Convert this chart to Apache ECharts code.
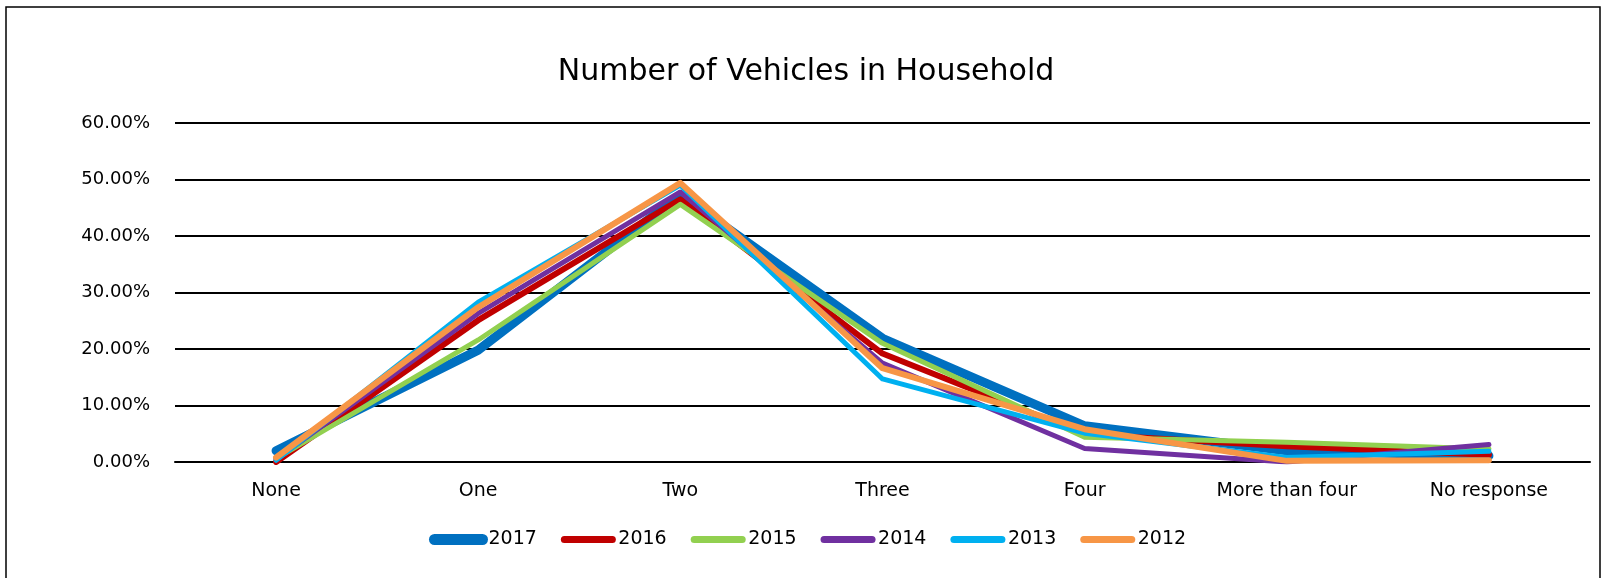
<!DOCTYPE html>
<html>
<head>
<meta charset="utf-8">
<script src="https://cdn.jsdelivr.net/npm/echarts@6/dist/echarts.min.js"></script>
<style>
  html, body { margin: 0; padding: 0; background: #fff; }
  #chart { width: 1612px; height: 578px; }
</style>
</head>
<body>
<div id="chart"></div>
<script>
// categories on the x axis
var categories = ['None', 'One', 'Two', 'Three', 'Four', 'More than four', 'No response'];
var years = ['2017', '2016', '2015', '2014', '2013', '2012'];
var colors = ['#0070C0', '#C00000', '#92D050', '#7030A0', '#00B0F0', '#F79646'];
var widths = [9, 6, 5, 5, 5, 6];
var legendWidths = [11, 7, 7, 7, 7, 7];

// shares of households, in percent
var y2017 = [2.0, 19.8, 47.3, 21.9, 6.4, 2.0, 1.1];
var y2016 = [0.0, 25.1, 46.5, 19.2, 4.9, 2.8, 1.3];
var y2015 = [0.6, 21.6, 45.6, 21.0, 4.4, 3.5, 2.3];
var y2014 = [0.5, 26.3, 47.8, 17.5, 2.4, 0.0, 3.1];
var y2013 = [0.3, 28.3, 49.0, 14.7, 5.1, 0.8, 1.9];
var y2012 = [0.8, 27.4, 49.4, 16.6, 5.8, 0.2, 0.3];
var values = [y2017, y2016, y2015, y2014, y2013, y2012];

var font = 'DejaVu Sans';

var series = [];
var legendData = [];
for (let i = 0; i < years.length; i++) {
  series.push({
    name: years[i],
    type: 'line',
    symbol: 'none',
    data: values[i].map(function (v) { return v / 100; }),
    lineStyle: { color: colors[i], width: widths[i], cap: 'round', join: 'round' },
    itemStyle: { color: colors[i] },
    z: 2 + i
  });
  legendData.push({
    name: years[i],
    lineStyle: { color: colors[i], width: legendWidths[i], cap: 'round' }
  });
}

var chart = echarts.init(document.getElementById('chart'));
chart.setOption({
  animation: false,
  backgroundColor: '#fff',
  title: {
    text: 'Number of Vehicles in Household',
    left: 'center',
    top: 52,
    textStyle: { fontFamily: font, fontSize: 30, fontWeight: 'normal', color: '#000' }
  },
  legend: {
    data: legendData,
    bottom: 24,
    left: 424,
    itemWidth: 48,
    itemHeight: 12,
    itemGap: 24,
    itemStyle: { opacity: 0 },
    textStyle: { fontFamily: font, fontSize: 19, color: '#000', padding: [0, 0, 0, 1] }
  },
  grid: { left: 175, right: 22, top: 123, bottom: 116, containLabel: false },
  xAxis: {
    type: 'category',
    data: categories,
    boundaryGap: true,
    axisLine: { lineStyle: { color: '#000', width: 2 } },
    axisTick: { show: false },
    axisLabel: { fontFamily: font, fontSize: 19, color: '#000', margin: 20 }
  },
  yAxis: {
    type: 'value',
    min: 0,
    max: 0.6,
    interval: 0.1,
    axisLine: { show: false },
    axisTick: { show: false },
    splitLine: { lineStyle: { color: '#000', width: 2 } },
    axisLabel: {
      fontFamily: font, fontSize: 18, color: '#000', margin: 25,
      formatter: function (v) { return (v * 100).toFixed(2) + '%'; }
    }
  },
  graphic: [{
    type: 'rect',
    shape: { x: 6, y: 7, width: 1594, height: 600 },
    style: { fill: 'none', stroke: '#000', lineWidth: 1.5 },
    silent: true
  }],
  series: series
});
</script>
</body>
</html>
